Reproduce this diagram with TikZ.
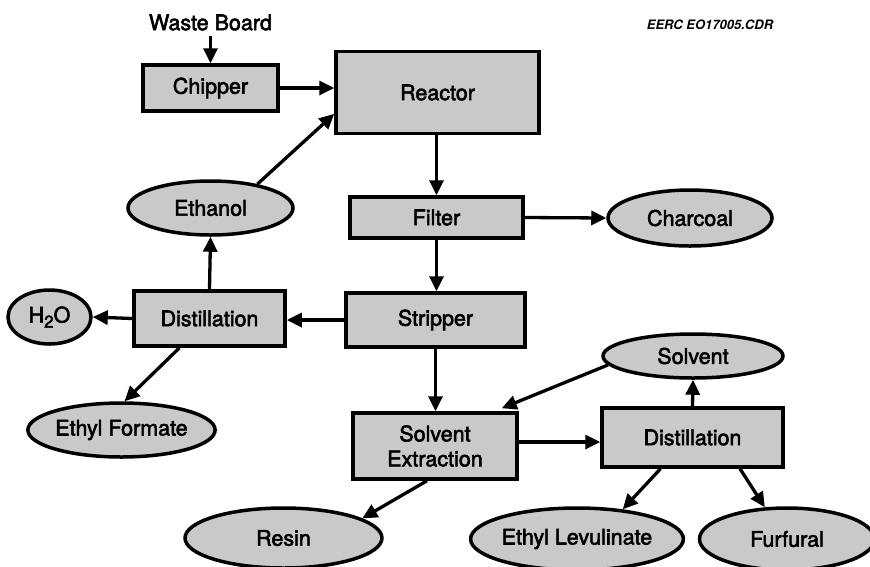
\documentclass[tikz,border=0pt]{standalone}
\usepackage{fontspec}
\setmainfont{TeX Gyre Heros}
\newfontfamily\heavyfont[FakeBold=2.5]{TeX Gyre Heros}
\usetikzlibrary{arrows.meta,calc,shapes.geometric}
\definecolor{boxgray}{gray}{0.79}
\tikzset{
  procbox/.style={draw=black, line width=3.5pt, fill=boxgray, inner sep=0pt, align=center},
  prodell/.style={draw=black, line width=3.5pt, fill=boxgray, ellipse, inner sep=0pt},
  flow/.style={line width=3.3pt, -{Triangle[length=15pt,width=14pt]}},
  lbl/.style={font=\heavyfont\fontsize{21.5}{25}\selectfont}
}
\begin{document}
\begin{tikzpicture}[x=1pt,y=-1pt,every node/.style={lbl}]
\useasboundingbox (0,0) rectangle (870,566);
\clip (0,0) rectangle (870,566);
\fill[white] (0,0) rectangle (870,566);
% labels
\node (waste) at (210.5,22.5) {Waste Board};
\node[font=\fontsize{13}{15}\selectfont\bfseries\itshape] (eerc) at (710,25) {EERC EO17005.CDR};
% boxes
\node[procbox, minimum width=135pt, minimum height=46pt] (chipper) at (210.5,88) {Chipper};
\node[procbox, minimum width=203pt, minimum height=82pt] (reactor) at (437.5,92.5) {Reactor};
\node[procbox, minimum width=173pt, minimum height=41pt] (filter) at (436.5,217.5) {Filter};
\node[procbox, minimum width=179pt, minimum height=54pt] (stripper) at (435.5,320) {Stripper};
\node[procbox, minimum width=151pt, minimum height=55pt] (dist1) at (209.5,318.5) {Distillation};
\node[procbox, minimum width=164pt, minimum height=66pt] (solvext) at (435,446) {Solvent\\Extraction};
\node[procbox, minimum width=181pt, minimum height=59pt] (dist2) at (692.5,437.5) {Distillation};
% ellipses
\node[prodell, minimum width=165pt, minimum height=54pt] (ethanol) at (210.5,208) {Ethanol};
\node[prodell, minimum width=164pt, minimum height=56pt] (charcoal) at (690,218) {Charcoal};
\node[prodell, minimum width=83pt, minimum height=54pt] (h2o) at (49.5,317) {H\lower5pt\hbox{\fontsize{17}{17}\selectfont 2}O};
\node[prodell, minimum width=187pt, minimum height=54pt] (ethform) at (121.5,430) {Ethyl Formate};
\node[prodell, minimum width=180pt, minimum height=44pt] (solvent) at (693,356) {Solvent};
\node[prodell, minimum width=197pt, minimum height=60pt] (resin) at (283.5,538) {Resin};
\node[prodell, minimum width=200pt, minimum height=62pt] (ethlev) at (577,539) {Ethyl Levulinate};
\node[prodell, minimum width=175pt, minimum height=62pt] (furfural) at (787,539) {Furfural};
% connector end points
\coordinate (wasteout) at ($(waste.south)+(0,2)$);
\coordinate (reactin) at ($(reactor.south west)!0.25!(reactor.north west)$);
\coordinate (d1out) at ($(dist1.south)+(-30,0)$);
\coordinate (seout) at ($(solvext.south)+(-8,0)$);
\coordinate (seeast) at ($(solvext.east)+(0,-4)$);
\coordinate (sein) at ($(solvext.north east)+(-17,-3)$);
\coordinate (d2left) at ($(dist2.south)+(-32,0)$);
\coordinate (d2right) at ($(dist2.south)+(47.5,0)$);
% connectors
\draw[flow] (wasteout) -- (chipper.north);
\draw[flow] (chipper.east) -- (chipper.east -| reactor.west);
\draw[flow] (ethanol.27) -- (reactin);
\draw[flow] (reactor.south -| filter.north) -- (filter.north);
\draw[flow] (filter.east) -- (charcoal.west);
\draw[flow] (filter.south) -- (filter.south |- stripper.north);
\draw[flow] (stripper.west) -- (stripper.west -| dist1.east);
\draw[flow] (dist1.north) -- (ethanol.south);
\draw[flow] (dist1.west) -- (h2o.east);
\draw[flow] (d1out) -- (ethform.84);
\draw[flow] (stripper.south) -- (stripper.south |- solvext.north);
\draw[flow] (seout) -- (resin.14);
\draw[flow] (seeast) -- (seeast -| dist2.west);
\draw[flow] (dist2.north) -- (solvent.south);
\draw[flow] (solvent.186) -- (sein);
\draw[flow] (d2left) -- (ethlev.33);
\draw[flow] (d2right) -- (furfural.125);
\end{tikzpicture}
\end{document}
